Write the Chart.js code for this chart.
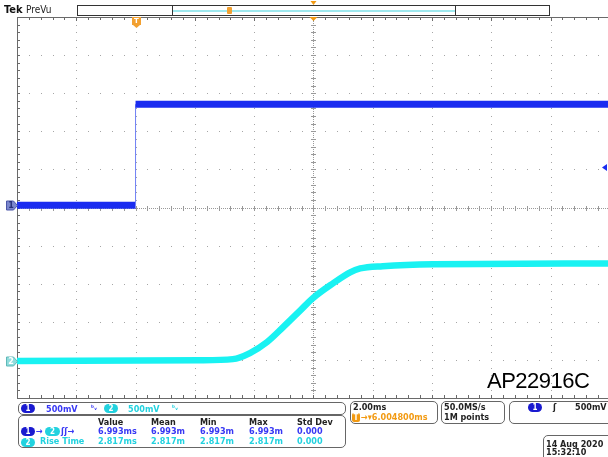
<!DOCTYPE html>
<html>
<head>
<meta charset="utf-8">
<script src="https://cdn.jsdelivr.net/npm/chart.js@4.4.1/dist/chart.umd.min.js"></script>
<style>
  body { margin: 0; background: #fff; width: 608px; height: 457px; overflow: hidden; position: relative;
         font-family: "DejaVu Sans Condensed", "DejaVu Sans", sans-serif; }
  #wrap { position: absolute; left: 0; top: 0; width: 608px; height: 457px; }
  .box { position: absolute; border: 1px solid #666; border-radius: 5px; box-sizing: border-box; }
  .t { position: absolute; font-weight: bold; font-size: 9px; line-height: 10px; white-space: pre; color: #222; }
  .pill { position: absolute; height: 9px; border-radius: 5px; color: #fff; font-weight: bold; font-size: 8px;
          line-height: 9px; text-align: center; }
  .b { color: #3838f4; }
  .c { color: #22d2df; }
  .o { color: #f29a12; }
</style>
</head>
<body>
<div id="wrap"><canvas id="grafico" width="608" height="457"></canvas></div>

<!-- cabecera -->
<div class="t" style="left:4px;top:5px;font-size:11px;font-family:'DejaVu Sans Condensed';color:#111">Tek</div>
<div class="t" style="left:26px;top:5px;font-weight:normal;font-size:10px;color:#222">PreVu</div>
<div style="position:absolute;left:77px;top:5px;width:473px;height:11px;border:1px solid #333;box-sizing:border-box"></div>
<div style="position:absolute;left:172px;top:5px;width:284px;height:11px;border-left:1px solid #333;border-right:1px solid #333;box-sizing:border-box"></div>
<div style="position:absolute;left:173px;top:10px;width:282px;height:2px;background:#9ee8ee"></div>
<div style="position:absolute;left:227px;top:7px;width:5px;height:7px;background:#f2a030;border-radius:1px"></div>

<!-- canales -->
<div class="box" style="left:18px;top:402px;width:328px;height:13px"></div>
<div class="pill" style="left:21px;top:404px;width:14px;background:#1a1ad0">1</div>
<div class="t b" style="left:46px;top:403.5px">500mV</div>
<div class="t b" style="left:91px;top:403px;font-size:7px">ᵇᵥ</div>
<div class="pill" style="left:104px;top:404px;width:14px;background:#22d2df">2</div>
<div class="t c" style="left:128px;top:403.5px">500mV</div>
<div class="t c" style="left:172px;top:403px;font-size:7px">ᵇᵥ</div>

<!-- medidas -->
<div class="box" style="left:18px;top:415px;width:328px;height:33px"></div>
<div class="t" style="left:98px;top:416.5px">Value</div>
<div class="t" style="left:151px;top:416.5px">Mean</div>
<div class="t" style="left:200px;top:416.5px">Min</div>
<div class="t" style="left:249px;top:416.5px">Max</div>
<div class="t" style="left:297px;top:416.5px">Std Dev</div>

<div class="pill" style="left:21px;top:427px;width:14px;background:#1a1ad0">1</div>
<div class="t b" style="left:36px;top:425.5px">→</div>
<div class="pill" style="left:45px;top:427px;width:15px;background:#22d2df">2</div>
<div class="t b" style="left:61px;top:425.5px">ʃʃ→</div>
<div class="t b" style="left:98px;top:425.5px">6.993ms</div>
<div class="t b" style="left:151px;top:425.5px">6.993m</div>
<div class="t b" style="left:200px;top:425.5px">6.993m</div>
<div class="t b" style="left:249px;top:425.5px">6.993m</div>
<div class="t b" style="left:297px;top:425.5px">0.000</div>

<div class="pill" style="left:21px;top:437.5px;width:14px;background:#22d2df">2</div>
<div class="t c" style="left:40px;top:436px">Rise Time</div>
<div class="t c" style="left:98px;top:436px">2.817ms</div>
<div class="t c" style="left:151px;top:436px">2.817m</div>
<div class="t c" style="left:200px;top:436px">2.817m</div>
<div class="t c" style="left:249px;top:436px">2.817m</div>
<div class="t c" style="left:297px;top:436px">0.000</div>

<!-- horizontal -->
<div class="box" style="left:350px;top:401px;width:88px;height:23px"></div>
<div class="t" style="left:353px;top:402px">2.00ms</div>
<div class="pill" style="left:352px;top:413px;width:8px;border-radius:2px;background:#f29a12">T</div>
<div class="t o" style="left:361px;top:412px">→▾6.004800ms</div>

<div class="box" style="left:441px;top:401px;width:64px;height:23px"></div>
<div class="t" style="left:444px;top:402px">50.0MS/s</div>
<div class="t" style="left:444px;top:412px">1M points</div>

<div class="box" style="left:509px;top:401px;width:110px;height:23px"></div>
<div class="pill" style="left:528px;top:403px;width:14px;background:#1a1ad0">1</div>
<div class="t" style="left:553px;top:402px">ʃ</div>
<div class="t" style="left:575px;top:402px">500mV</div>

<div class="box" style="left:543px;top:435px;width:80px;height:30px"></div>
<div class="t" style="left:546px;top:438.5px">14 Aug 2020</div>
<div class="t" style="left:546px;top:446.5px">15:32:10</div>

<div style="position:absolute;left:487px;top:368px;font-family:'Liberation Sans',Arial,sans-serif;font-size:22px;letter-spacing:-0.5px;color:#000">AP22916C</div>

<script>
// divisiones horizontales (2 ms/div) y verticales (500 mV/div)
const canal1X = [0, 2.0, 2.0, 9.97]
const canal1Y = [0.06, 0.06, 2.71, 2.71]
const canal2X = [0, 3.09, 3.64, 3.93, 4.22, 4.49, 4.78, 4.99, 5.33, 5.62, 5.79, 6.17, 7.02, 9.97]
const canal2Y = [-4.03, -4.01, -3.98, -3.82, -3.53, -3.14, -2.70, -2.38, -1.99, -1.70, -1.60, -1.54, -1.49, -1.47]
const tierra1 = 0.06
const tierra2 = -4.03
const nivelDisparo = 1.05
const tiempoDisparo = 2.0
const centroX = 5

function puntos(xs, ys) {
    return xs.map((x, i) => ({ x: x, y: ys[i] }))
}

// Plugin para dibujar la retícula del osciloscopio
const reticula = {
    id: 'reticula',
    beforeDatasetsDraw(chart) {
        const { ctx, chartArea: a, scales: { x, y } } = chart
        const px = v => Math.round(x.getPixelForValue(v))
        const py = v => Math.round(y.getPixelForValue(v))
        ctx.save()
        ctx.fillStyle = '#a6a6a6'
        for (let i = 1; i < 10; i++) {
            if (i === 5) continue
            for (let j = -25; j <= 25; j++) ctx.fillRect(px(i), py(j / 5), 1, 1)
        }
        for (let k = -4; k <= 4; k++) {
            if (k === 0) continue
            for (let j = 0; j <= 50; j++) ctx.fillRect(px(j / 5), py(k), 1, 1)
        }
        // cruz central
        const cx = px(centroX), cy = py(0)
        ctx.fillStyle = '#9a9a9a'
        for (let p = a.top; p < a.bottom; p += 2) ctx.fillRect(cx, p, 1, 1)
        for (let p = a.left; p < a.right; p += 2) ctx.fillRect(p, cy, 1, 1)
        for (let j = -25; j <= 25; j++) ctx.fillRect(cx - 2, py(j / 5), 5, 1)
        for (let j = 0; j <= 50; j++) ctx.fillRect(px(j / 5), cy - 2, 1, 5)
        // marco
        ctx.fillStyle = '#6a6a6a'
        ctx.fillRect(a.left, a.top, 1, a.bottom - a.top)
        ctx.fillRect(a.left, a.top, a.right - a.left, 1)
        ctx.fillRect(a.left, a.bottom, a.right - a.left, 1)
        for (let j = -25; j <= 25; j++) ctx.fillRect(a.left, py(j / 5), 3, 1)
        for (let j = 0; j <= 50; j++) {
            ctx.fillRect(px(j / 5), a.top, 1, j % 5 === 0 ? 4 : 3)
            ctx.fillRect(px(j / 5), a.bottom - 3, 1, 3)
        }
        ctx.restore()
    },
    afterDatasetsDraw(chart) {
        const { ctx, chartArea: a, scales: { x, y } } = chart
        ctx.save()
        // marcadores de tierra
        function marcador(yv, relleno, borde, texto, colorTexto) {
            const yc = Math.round(y.getPixelForValue(yv)) + 0.5
            ctx.beginPath()
            ctx.moveTo(6.5, yc - 4.5)
            ctx.lineTo(13.5, yc - 4.5)
            ctx.lineTo(17.5, yc)
            ctx.lineTo(13.5, yc + 4.5)
            ctx.lineTo(6.5, yc + 4.5)
            ctx.closePath()
            ctx.fillStyle = relleno
            ctx.fill()
            ctx.strokeStyle = borde
            ctx.lineWidth = 1
            ctx.stroke()
            ctx.fillStyle = colorTexto
            ctx.font = 'bold 8px "DejaVu Sans"'
            ctx.textAlign = 'center'
            ctx.textBaseline = 'middle'
            ctx.fillText(texto, 11, yc + 0.5)
        }
        marcador(tierra1, '#7a86cc', '#4a56a8', '1', '#26307a')
        marcador(tierra2, '#8fdcdc', '#5fb8b8', '2', '#ffffff')

        // marcador de disparo T
        const tx = Math.round(x.getPixelForValue(tiempoDisparo))
        ctx.fillStyle = '#f2a030'
        ctx.fillRect(tx - 4, 17, 9, 8)
        ctx.beginPath()
        ctx.moveTo(tx - 3, 25)
        ctx.lineTo(tx + 4, 25)
        ctx.lineTo(tx + 0.5, 28)
        ctx.closePath()
        ctx.fill()
        ctx.fillStyle = '#fff'
        ctx.font = 'bold 7px "DejaVu Sans"'
        ctx.textAlign = 'center'
        ctx.textBaseline = 'middle'
        ctx.fillText('T', tx + 0.5, 21.5)

        // posición de retardo en el centro
        const cx = Math.round(x.getPixelForValue(centroX)) + 0.5
        ctx.fillStyle = '#f29a12'
        ctx.beginPath()
        ctx.moveTo(cx - 4, a.top)
        ctx.lineTo(cx + 4, a.top)
        ctx.lineTo(cx, a.top + 4)
        ctx.closePath()
        ctx.fill()
        ctx.beginPath()
        ctx.moveTo(cx - 3, 1)
        ctx.lineTo(cx + 3, 1)
        ctx.lineTo(cx, 5)
        ctx.closePath()
        ctx.fill()

        // nivel de disparo a la derecha
        const ny = Math.round(y.getPixelForValue(nivelDisparo)) + 0.5
        ctx.fillStyle = '#1a2cf0'
        ctx.beginPath()
        ctx.moveTo(602, ny)
        ctx.lineTo(607, ny - 3.5)
        ctx.lineTo(607, ny + 3.5)
        ctx.closePath()
        ctx.fill()
        ctx.restore()
    }
}

const grafico = document.getElementById('grafico').getContext('2d')
new Chart(grafico, {
    type: 'line',
    data: {
        datasets: [{
            data: puntos(canal2X, canal2Y),
            borderColor: '#19f2f2',
            borderWidth: 6.5,
            pointRadius: 0,
            cubicInterpolationMode: 'monotone',
            fill: false
        }, {
            data: puntos(canal1X, canal1Y),
            borderColor: '#1a2cf0',
            borderWidth: 7,
            pointRadius: 0,
            tension: 0,
            fill: false,
            segment: {
                borderWidth: ctx => ctx.p0.parsed.x === ctx.p1.parsed.x ? 1 : undefined,
                borderColor: ctx => ctx.p0.parsed.x === ctx.p1.parsed.x ? '#6f7ff4' : undefined
            }
        }]
    },
    options: {
        responsive: false,
        animation: false,
        layout: { padding: { left: 17, right: 0, top: 17, bottom: 59 } },
        plugins: { legend: { display: false }, tooltip: { enabled: false } },
        scales: {
            x: { type: 'linear', min: 0, max: 9.97, display: false },
            y: { min: -5, max: 5, display: false }
        }
    },
    plugins: [reticula]
})
</script>
</body>
</html>
